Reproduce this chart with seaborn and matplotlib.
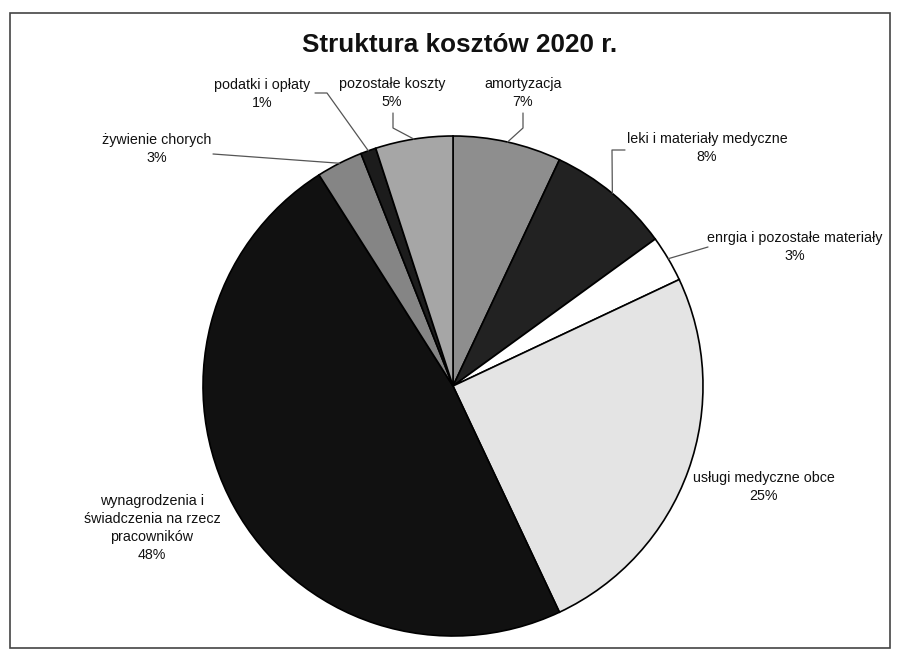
import numpy as np
import matplotlib.pyplot as plt
import seaborn as sns
from matplotlib.patches import Rectangle

sns.set_style('white')
plt.rcParams['font.family'] = ['Liberation Sans', 'DejaVu Sans']

# cost structure 2020, clockwise from 12 o'clock
categories = ['amortyzacja', 'leki i materiały medyczne', 'enrgia i pozostałe materiały',
              'usługi medyczne obce', 'wynagrodzenia i\nświadczenia na rzecz\npracowników',
              'żywienie chorych', 'podatki i opłaty', 'pozostałe koszty']
shares = [7, 8, 3, 25, 48, 3, 1, 5]
colors = ['#8e8e8e', '#222222', '#ffffff', '#e4e4e4', '#111111', '#858585', '#1c1c1c', '#a6a6a6']

# pixel layout of the original picture
CX, CY, R = 453, 386, 250
W, H = 902, 654

def px(x, y):
    return (x - CX) / R, (CY - y) / R

fig = plt.figure(figsize=(9.02, 6.54), dpi=100)
ax = fig.add_axes([0, 0, 1, 1])
ax.pie(shares, colors=colors, startangle=90, counterclock=False, radius=1,
       wedgeprops=dict(edgecolor='black', linewidth=1.2))
ax.set_xlim(-CX / R, (W - CX) / R)
ax.set_ylim((CY - H) / R, CY / R)
ax.set_aspect('auto')
ax.axis('off')

# frame around the chart
fig.patches.append(Rectangle((10 / W, 1 - 648 / H), 880 / W, 635 / H, transform=fig.transFigure,
                             fill=False, edgecolor='#444444', linewidth=1.2))

ax.text(*px(460, 45), 'Struktura kosztów 2020 r.', ha='center', va='center',
        fontsize=18.8, fontweight='bold', color='#111111')

# label centre (px) and leader start points (px) or None
label_pos = [(523, 93), (707, 148), (795, 247), (764, 487), (152, 528),
             (157, 149), (262, 94), (392, 93)]
leaders = [[(523, 113), (523, 128)], [(625, 150), (612, 150)], [(708, 247)], None, None,
           [(213, 154)], [(315, 93), (327, 93)], [(393, 113), (393, 128)]]

cum = np.cumsum([0] + shares)
for i, name in enumerate(categories):
    txt = f'{name}\n{shares[i]}%'
    ax.text(*px(*label_pos[i]), txt, ha='center', va='center', fontsize=10.3,
            linespacing=1.38, color='#111111')
    if leaders[i] is not None:
        mid = (cum[i] + cum[i + 1]) / 2 / sum(shares) * 2 * np.pi
        end = (np.sin(mid), np.cos(mid))
        pts = [px(*p) for p in leaders[i]] + [end]
        xs, ys = zip(*pts)
        ax.plot(xs, ys, color='#555555', linewidth=0.9)

fig.savefig('out.png', dpi=100)
